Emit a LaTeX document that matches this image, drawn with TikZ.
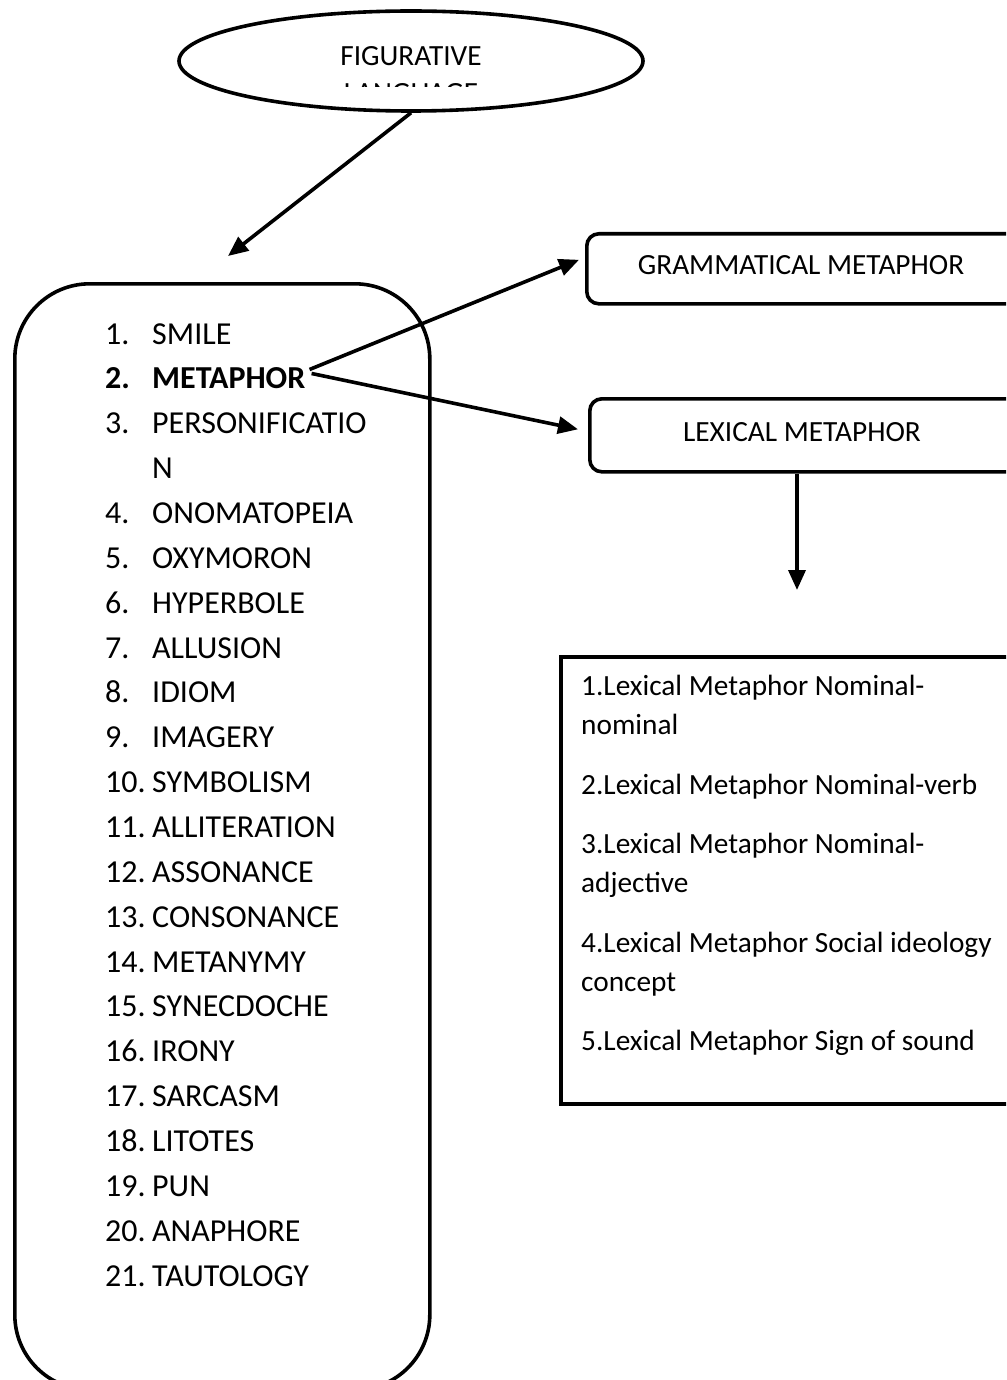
\documentclass[tikz,border=0pt]{standalone}
\usepackage{fontspec}
\setmainfont{Carlito}
\usetikzlibrary{arrows.meta,shapes.geometric}
\begin{document}
\begin{tikzpicture}[x=1pt,y=-1pt,
  every node/.style={inner sep=0pt, font=\fontsize{29.3}{35}\selectfont},
  thick line/.style={line width=3.6pt},
  arr/.style={line width=3.6pt, -{Triangle[length=20pt,width=17pt]}},
  item/.style={anchor=base west},
  listitem/.style={anchor=base west, font=\fontsize{32}{38}\selectfont}]
\useasboundingbox (0,0) rectangle (1006,1380);
\fill[white] (0,0) rectangle (1006,1380);
\clip (0,0) rectangle (1006,1380);

% ellipse
\node[draw, thick line, ellipse, minimum width=464pt, minimum height=100pt] (fig) at (411,61) {};
\node[anchor=base] (figt) at (411,65.5) {FIGURATIVE};
\begin{scope}
  \clip (300,80) rectangle (520,86.8);
  \node[anchor=base] (lang) at (411,102.5) {LANGUAGE};
\end{scope}
\coordinate (listtop) at (228,256);
\draw[arr] (fig.south) -- (listtop);

% main list box
\node[draw, thick line, rounded corners=75pt, minimum width=415pt, minimum height=1106pt, anchor=north west] (list) at (13,282) {};

\foreach \k/\num/\txt in {0/1./SMILE, 2/3./PERSONIFICATIO, 4/4./ONOMATOPEIA, 5/5./OXYMORON,
  6/6./HYPERBOLE, 7/7./ALLUSION, 8/8./IDIOM, 9/9./IMAGERY, 10/10./SYMBOLISM,
  11/11./ALLITERATION, 12/12./ASSONANCE, 13/13./CONSONANCE, 14/14./METANYMY,
  15/15./SYNECDOCHE, 16/16./IRONY, 17/17./SARCASM, 18/18./LITOTES, 19/19./PUN,
  20/20./ANAPHORE, 21/21./TAUTOLOGY}{
  \node[listitem] (n\k) at ({105},{344+44.86*\k}) {\num};
  \node[listitem] (t\k) at ({152},{344+44.86*\k}) {\txt};
}
\node[listitem] (n1) at (105,388.86) {\bfseries 2.};
\node[listitem] (meta) at (152,388.86) {\bfseries METAPHOR};
\node[listitem] (t3) at (152,478.58) {N};

% metaphor boxes
\node[draw, thick line, rounded corners=12pt, minimum width=450pt, minimum height=70pt, anchor=north west] (gram) at (585,232) {};
\node (gramt) at (801,265) {GRAMMATICAL METAPHOR};
\node[draw, thick line, rounded corners=12pt, minimum width=450pt, minimum height=73pt, anchor=north west] (lex) at (588,397) {};
\node (lext) at (802,432.5) {LEXICAL METAPHOR};

\draw[arr] ([shift={(4,-9)}]meta.east) -- ([shift={(-6,-9)}]gram.west);
\draw[arr] ([shift={(6,-5)}]meta.east) -- ([shift={(-10,-6)}]lex.west);

\coordinate (ld) at (797,590);
\draw[arr] (lex.south -| ld) -- (ld);

% sub list box
\node[draw, thick line, minimum width=480pt, minimum height=447pt, anchor=north west] (sub) at (559,655) {};
\node[item] (s1a) at (581,695) {1.Lexical Metaphor Nominal-};
\node[item] (s1b) at (581,734.5) {nominal};
\node[item] (s2) at (581,794) {2.Lexical Metaphor Nominal-verb};
\node[item] (s3a) at (581,853) {3.Lexical Metaphor Nominal-};
\node[item] (s3b) at (581,892.5) {adjective};
\node[item] (s4a) at (581,952) {4.Lexical Metaphor Social ideology};
\node[item] (s4b) at (581,991.5) {concept};
\node[item] (s5) at (581,1050) {5.Lexical Metaphor Sign of sound};
\end{tikzpicture}
\end{document}
